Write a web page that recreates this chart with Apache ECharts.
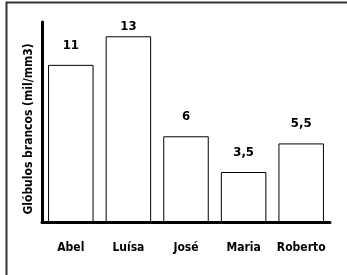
<!DOCTYPE html>
<html>
<head>
<meta charset="utf-8">
<script src="https://cdn.jsdelivr.net/npm/echarts@6/dist/echarts.min.js"></script>
<style>html,body{margin:0;padding:0;background:#fff}#c{width:347px;height:275px}</style>
</head>
<body>
<div id="c"></div>
<script>
var categories = ["Abel", "Luísa", "José", "Maria", "Roberto"];
var values = [11, 13, 6, 3.5, 5.5];
var valueLabels = ["11", "13", "6", "3,5", "5,5"];
var yTitle = "Glóbulos brancos (mil/mm3)";

var FONT = '"DejaVu Sans Condensed", "Liberation Sans", sans-serif';
var maxV = Math.max.apply(null, values);
var chart = echarts.init(document.getElementById('c'), null, {renderer: 'canvas'});
chart.setOption({
  animation: false,
  backgroundColor: '#fff',
  graphic: [{
    type: 'rect', silent: true, z: 100,
    shape: {x: 6.5, y: 2.5, width: 360, height: 300},
    style: {fill: 'none', stroke: '#333', lineWidth: 2}
  }, {
    type: 'text', z: 100, rotation: Math.PI / 2,
    x: 29, y: 129,
    style: {text: yTitle, font: 'bold 12px ' + FONT, fill: '#000', align: 'center', verticalAlign: 'middle'}
  }],
  grid: {left: 42, right: 17, top: 22, bottom: 53},
  xAxis: {
    type: 'category', data: categories,
    axisLine: {lineStyle: {color: '#000', width: 3}},
    axisTick: {show: false},
    axisLabel: {interval: 0, margin: 20, color: '#000', fontFamily: FONT, fontWeight: 'bold', fontSize: 12}
  },
  yAxis: {
    type: 'value', min: 0, max: 14,
    axisLine: {show: true, lineStyle: {color: '#000', width: 3}},
    axisTick: {show: false}, axisLabel: {show: false}, splitLine: {show: false}
  },
  series: [{
    type: 'bar', barWidth: '79%',
    data: values.map(function (v, i) {
      return {value: v, label: {formatter: valueLabels[i], distance: v === maxV ? 3 : 13}};
    }),
    itemStyle: {color: '#fff', borderColor: '#000', borderWidth: 1},
    label: {show: true, position: 'top', color: '#000', fontFamily: FONT, fontWeight: 'bold', fontSize: 13}
  }]
});
</script>
</body>
</html>
